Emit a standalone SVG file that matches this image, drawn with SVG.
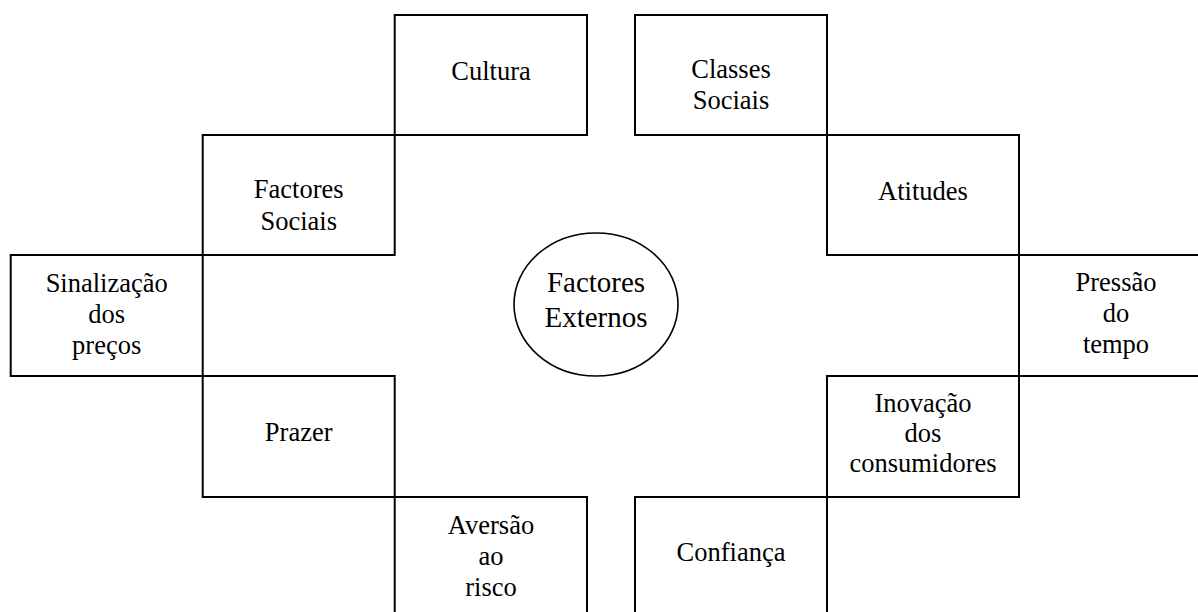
<svg xmlns="http://www.w3.org/2000/svg" width="1198" height="612" viewBox="0 0 1198 612">
  <style>
    .box { fill: none; stroke: #000; stroke-width: 2; }
    .hub { fill: #fff; stroke: #000; stroke-width: 1.6; }
    text { font-family: 'Liberation Serif', 'Times New Roman', serif; fill: #000; text-anchor: middle; }
    .lbl { font-size: 26.5px; }
    .hubtxt { font-size: 29px; }
  </style>
  <rect width="1198" height="612" fill="#fff"/>

  <!-- upper-left arm -->
  <g id="cultura">
    <rect class="box" x="394.7" y="15" width="192.3" height="120"/>
    <text class="lbl" x="491" y="80">Cultura</text>
  </g>
  <g id="factores-sociais">
    <rect class="box" x="202.7" y="135" width="192" height="120"/>
    <text class="lbl" x="298.7" y="198">Factores</text>
    <text class="lbl" x="298.7" y="230">Sociais</text>
  </g>

  <!-- upper-right arm -->
  <g id="classes-sociais">
    <rect class="box" x="635" y="15" width="192" height="120"/>
    <text class="lbl" x="731" y="78">Classes</text>
    <text class="lbl" x="731" y="109">Sociais</text>
  </g>
  <g id="atitudes">
    <rect class="box" x="827" y="135" width="192" height="120"/>
    <text class="lbl" x="923" y="200">Atitudes</text>
  </g>

  <!-- side boxes -->
  <g id="sinalizacao">
    <rect class="box" x="10.7" y="255" width="192" height="121"/>
    <text class="lbl" x="106.7" y="291.5">Sinalização</text>
    <text class="lbl" x="106.7" y="322.5">dos</text>
    <text class="lbl" x="106.7" y="353.5">preços</text>
  </g>
  <g id="pressao">
    <rect class="box" x="1019" y="255" width="192" height="121"/>
    <text class="lbl" x="1116" y="291">Pressão</text>
    <text class="lbl" x="1116" y="322">do</text>
    <text class="lbl" x="1116" y="353">tempo</text>
  </g>

  <!-- lower-left arm -->
  <g id="prazer">
    <rect class="box" x="202.7" y="376" width="192" height="121"/>
    <text class="lbl" x="298.7" y="441">Prazer</text>
  </g>
  <g id="aversao">
    <rect class="box" x="394.7" y="497" width="192.3" height="120"/>
    <text class="lbl" x="491" y="533.5">Aversão</text>
    <text class="lbl" x="491" y="564.5">ao</text>
    <text class="lbl" x="491" y="595.5">risco</text>
  </g>

  <!-- lower-right arm -->
  <g id="inovacao">
    <rect class="box" x="827" y="376" width="192" height="121"/>
    <text class="lbl" x="923" y="411.5">Inovação</text>
    <text class="lbl" x="923" y="442">dos</text>
    <text class="lbl" x="923" y="472">consumidores</text>
  </g>
  <g id="confianca">
    <rect class="box" x="635" y="497" width="192" height="120"/>
    <text class="lbl" x="731" y="561">Confiança</text>
  </g>

  <!-- central hub -->
  <g id="factores-externos">
    <ellipse class="hub" cx="596" cy="304.5" rx="82" ry="71.5"/>
    <text class="hubtxt" x="596" y="292">Factores</text>
    <text class="hubtxt" x="596" y="327">Externos</text>
  </g>
</svg>
